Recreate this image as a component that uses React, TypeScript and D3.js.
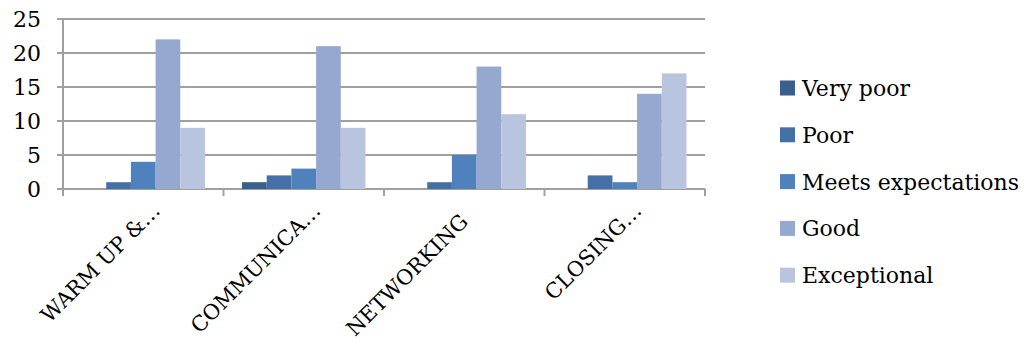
import React from "react";
import * as d3 from "d3";

const categories = ["WARM UP &…", "COMMUNICA…", "NETWORKING", "CLOSING…"];
const seriesNames = ["Very poor", "Poor", "Meets expectations", "Good", "Exceptional"];
const veryPoor = [0, 1, 0, 0];
const poor = [1, 2, 1, 2];
const meets = [4, 3, 5, 1];
const good = [22, 21, 18, 14];
const exceptional = [9, 9, 11, 17];
const colors = ["#3A5F8B", "#4470A7", "#4F81BD", "#94A8D0", "#B9C5DF"];
const yTicks = [0, 5, 10, 15, 20, 25];

const seriesValues = [veryPoor, poor, meets, good, exceptional];

export default function App() {
  const W = 1024, H = 345;
  const left = 63, right = 705, top = 19, bottom = 189;
  const font = "'DejaVu Serif', serif";
  const x = d3.scaleBand<string>().domain(categories).range([left, right]).paddingInner(0).paddingOuter(0);
  const inner = d3
    .scaleBand<string>()
    .domain(seriesNames)
    .range([0, x.bandwidth()])
    .paddingInner(0)
    .paddingOuter(0.75);
  const y = d3.scaleLinear().domain([0, 25]).range([bottom, top]);
  const grid = "#A0A0A0";
  return (
    <svg width={W} height={H} style={{ position: "absolute", left: 0, top: 0 }}>
      <rect x={0} y={0} width={W} height={H} fill="#fff" />
      {yTicks.map((t) => (
        <g key={t}>
          <line x1={left - 6} x2={right} y1={y(t)} y2={y(t)} stroke={grid} strokeWidth={2} />
          <text x={41} y={y(t) + 8} textAnchor="end" fontFamily={font} fontSize={22} fill="#000">{t}</text>
        </g>
      ))}
      <line x1={left} x2={left} y1={top} y2={bottom} stroke={grid} strokeWidth={2} />
      {categories.map((c, i) => (
        <line key={"tk" + i} x1={x(c)!} x2={x(c)!} y1={bottom} y2={bottom + 7} stroke={grid} strokeWidth={2} />
      ))}
      <line x1={right} x2={right} y1={bottom} y2={bottom + 7} stroke={grid} strokeWidth={2} />
      {seriesValues.map((vals, s) =>
        categories.map((c, i) => {
          const v = vals[i];
          if (v === 0) return null;
          const bx = x(c)! + inner(seriesNames[s])!;
          return (
            <rect key={s + "-" + i} x={bx} y={y(v)} width={inner.bandwidth()} height={y(0) - y(v)} fill={colors[s]} />
          );
        })
      )}
      {categories.map((c, i) => {
        const truncated = c.endsWith("…");
        const cx = x(c)! + x.bandwidth() / 2 + (truncated ? 18 : 5);
        const cy = truncated ? 212 : 223;
        return (
          <text key={"xl" + i} transform={`translate(${cx},${cy}) rotate(-45)`} textAnchor="end" fontFamily={font} fontSize={21} fill="#000">{c}</text>
        );
      })}
      {seriesNames.map((n, s) => {
        const cy = 88 + s * 46.8;
        return (
          <g key={"lg" + s}>
            <rect x={780} y={cy - 7.5} width={15} height={15} fill={colors[s]} />
            <text x={802} y={cy + 8} fontFamily={font} fontSize={22} fill="#000">{n}</text>
          </g>
        );
      })}
    </svg>
  );
}
